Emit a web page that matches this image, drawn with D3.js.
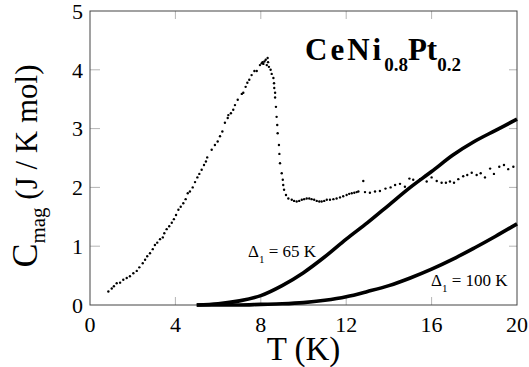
<!DOCTYPE html>
<html>
<head>
<meta charset="utf-8">
<script src="https://cdn.jsdelivr.net/npm/d3@7"></script>
</head>
<body style="margin:0">
<svg width="529" height="367" font-family="Liberation Serif"></svg>
<script>
// measured magnetic specific heat, [T (K), C (J/K mol)]
const measured = [
  [0.86,0.23],[1.02,0.28],[1.12,0.32],[1.25,0.37],[1.41,0.38],[1.56,0.43],[1.72,0.46],[1.87,0.49],
  [2.03,0.54],[2.19,0.58],[2.31,0.64],[2.47,0.71],[2.58,0.77],[2.68,0.83],[2.81,0.88],[2.94,0.95],
  [3.04,1.02],[3.15,1.06],[3.28,1.12],[3.41,1.15],[3.48,1.22],[3.59,1.29],[3.71,1.34],[3.83,1.40],
  [3.93,1.46],[4.03,1.53],[4.14,1.62],[4.25,1.67],[4.37,1.73],[4.48,1.80],[4.58,1.90],[4.68,1.93],
  [4.81,2.00],[4.92,2.09],[5.03,2.17],[5.12,2.23],[5.23,2.30],[5.34,2.38],[5.43,2.44],[5.49,2.51],
  [5.70,2.64],[5.85,2.72],[5.98,2.78],[6.09,2.87],[6.20,2.95],[6.32,3.10],[6.45,3.18],[6.48,3.23],
  [6.60,3.26],[6.71,3.32],[6.79,3.40],[6.92,3.49],[7.11,3.59],[7.18,3.61],[7.29,3.71],[7.37,3.78],
  [7.46,3.83],[7.57,3.91],[7.70,3.98],[7.81,3.98],[7.96,4.08],[8.04,4.11],[8.08,4.13],[8.12,4.10],
  [8.17,4.14],[8.23,4.17],[8.28,4.08],[8.32,4.20],[8.34,4.13],[8.38,4.05],[8.46,4.00],[8.51,3.93],
  [8.59,3.86],[8.62,3.77],[8.63,3.69],[8.67,3.61],[8.67,3.53],[8.71,3.37],[8.74,3.20],[8.77,3.06],
  [8.79,2.92],[8.85,2.72],[8.87,2.57],[8.90,2.41],[8.98,2.24],[9.03,2.13],[9.05,2.04],[9.09,1.96],
  [9.18,1.87],[9.29,1.81],[9.45,1.79],[9.56,1.77],[9.68,1.76],[9.80,1.77],[9.92,1.79],[10.03,1.80],
  [10.15,1.81],[10.27,1.81],[10.38,1.80],[10.50,1.79],[10.62,1.77],[10.74,1.76],[10.85,1.76],[10.97,1.77],
  [11.09,1.79],[11.24,1.79],[11.40,1.80],[11.55,1.81],[11.71,1.83],[11.86,1.85],[12.02,1.87],[12.14,1.89],
  [12.26,1.90],[12.38,1.91],[12.49,1.92],[12.57,1.93],[12.80,2.11],[12.88,1.92],[13.11,1.91],[13.35,1.93],
  [13.58,1.94],[13.84,1.98],[14.08,2.00],[14.29,2.04],[14.52,2.06],[14.75,2.01],[14.96,2.15],[15.14,2.13],
  [15.46,2.14],[15.77,2.10],[16.00,2.17],[16.24,2.11],[16.47,2.08],[16.67,2.08],[16.86,2.10],[17.05,2.08],
  [17.25,2.14],[17.48,2.19],[17.67,2.21],[17.88,2.25],[18.11,2.21],[18.30,2.24],[18.50,2.17],[18.74,2.32],
  [18.92,2.23],[19.17,2.35],[19.39,2.38],[19.59,2.31],[19.83,2.35]
];

// Schottky curves
const schottkyT   = [5, 6, 7, 8, 9, 10, 11, 12, 13, 14, 15, 16, 17, 18, 19, 20];
const schottky65  = [0.00, 0.02, 0.07, 0.16, 0.33, 0.55, 0.82, 1.12, 1.40, 1.70, 2.00, 2.27, 2.55, 2.78, 2.97, 3.16];
const schottky100 = [0.00, 0.00, 0.00, 0.01, 0.02, 0.04, 0.08, 0.14, 0.23, 0.33, 0.46, 0.61, 0.78, 0.97, 1.17, 1.38];

const xTicks = [0, 4, 8, 12, 16, 20];
const yTicks = [0, 1, 2, 3, 4, 5];

const svg = d3.select("svg");
const margin = { top: 11, right: 12, bottom: 62, left: 90 };
const width = +svg.attr("width") - margin.left - margin.right;
const height = +svg.attr("height") - margin.top - margin.bottom;

const g = svg.append("g").attr("transform", `translate(${margin.left},${margin.top})`);

const x = d3.scaleLinear().domain([0, 20]).range([0, width]);
const y = d3.scaleLinear().domain([0, 5]).range([height, 0]);

// faint inner ticks on all four sides
const inner = xTicks.slice(1, -1);
const innerY = yTicks.slice(1, -1);
const tickCol = "#b5b5b5";
g.append("g").selectAll("line").data(inner).join("line")
  .attr("x1", d => x(d)).attr("x2", d => x(d))
  .attr("y1", height).attr("y2", height - 8)
  .attr("stroke", tickCol);
g.append("g").selectAll("line").data(inner).join("line")
  .attr("x1", d => x(d)).attr("x2", d => x(d))
  .attr("y1", 0).attr("y2", 8)
  .attr("stroke", tickCol);
g.append("g").selectAll("line").data(innerY).join("line")
  .attr("x1", 0).attr("x2", 10)
  .attr("y1", d => y(d)).attr("y2", d => y(d))
  .attr("stroke", tickCol);
g.append("g").selectAll("line").data(innerY).join("line")
  .attr("x1", width).attr("x2", width - 8)
  .attr("y1", d => y(d)).attr("y2", d => y(d))
  .attr("stroke", tickCol);

// frame
g.append("rect")
  .attr("width", width).attr("height", height)
  .attr("fill", "none").attr("stroke", "#444").attr("stroke-width", 1);

// tick labels
g.append("g").selectAll("text").data(xTicks).join("text")
  .attr("x", d => x(d)).attr("y", height + 27)
  .attr("text-anchor", "middle")
  .attr("font-size", 22)
  .text(d => d);
g.append("g").selectAll("text").data(yTicks).join("text")
  .attr("x", -7).attr("y", d => y(d))
  .attr("dy", "0.35em")
  .attr("text-anchor", "end")
  .attr("font-size", 22)
  .text(d => d);

// axis titles
svg.append("text")
  .attr("x", margin.left + width / 2).attr("y", 360)
  .attr("text-anchor", "middle")
  .attr("font-size", 33)
  .text("T (K)");

const yt = svg.append("text")
  .attr("transform", "translate(37,166) rotate(-90)")
  .attr("text-anchor", "middle")
  .attr("font-size", 31);
yt.append("tspan").attr("font-size", 36).text("C");
yt.append("tspan").attr("font-size", 21).attr("dy", 8).text("mag");
yt.append("tspan").attr("dy", -8).text(" (J / K mol)");

// Schottky curves
const line = d3.line()
  .x(d => x(d[0]))
  .y(d => y(d[1]))
  .curve(d3.curveCatmullRom.alpha(0.5));

[schottky65, schottky100].forEach(vals => {
  g.append("path")
    .datum(schottkyT.map((t, i) => [t, vals[i]]))
    .attr("d", line)
    .attr("fill", "none")
    .attr("stroke", "#000")
    .attr("stroke-width", 3.6);
});

// measured points
g.append("g").selectAll("circle").data(measured).join("circle")
  .attr("cx", d => x(d[0]))
  .attr("cy", d => y(d[1]))
  .attr("r", 1.2)
  .attr("fill", "#000");

// compound label
const title = svg.append("text")
  .attr("x", 305).attr("y", 60)
  .attr("font-size", 31)
  .attr("font-weight", "bold");
title.append("tspan").attr("letter-spacing", 3).text("CeNi");
title.append("tspan").attr("font-size", 19).attr("dy", 11).text("0.8");
title.append("tspan").attr("dy", -11).text("Pt");
title.append("tspan").attr("font-size", 19).attr("dy", 11).text("0.2");

// gap labels
function gapLabel(px, py, val) {
  const t = svg.append("text").attr("x", px).attr("y", py).attr("font-size", 17);
  t.append("tspan").text("\u0394");
  t.append("tspan").attr("font-size", 11).attr("dy", 6).text("1");
  t.append("tspan").attr("dy", -6).text(` = ${val} K`);
}
gapLabel(248, 257, 65);
gapLabel(431, 286, 100);
</script>
</body>
</html>
